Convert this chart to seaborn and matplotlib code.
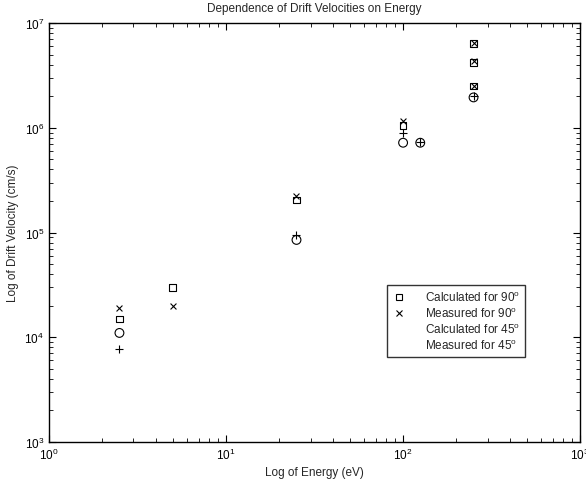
import matplotlib
matplotlib.use("Agg")
import matplotlib.pyplot as plt
import seaborn as sns
import numpy as np
from matplotlib.lines import Line2D
from matplotlib.ticker import LogLocator, NullFormatter

sns.set_style("white")
plt.rcParams['font.family'] = ['Liberation Sans', 'DejaVu Sans']
plt.rcParams['mathtext.fontset'] = 'custom'
plt.rcParams['mathtext.rm'] = 'Liberation Sans'

# Data
calc90_E = [2.5, 5, 25, 100, 250, 250, 250]
calc90_V = [1.5e4, 3.0e4, 2.05e5, 1.05e6, 6.4e6, 4.2e6, 2.5e6]
meas90_E = [2.5, 5, 25, 100, 250, 250, 250]
meas90_V = [1.9e4, 2.0e4, 2.25e5, 1.15e6, 6.4e6, 4.3e6, 2.5e6]
calc45_E = [2.5, 25, 100, 125, 250]
calc45_V = [1.1e4, 8.5e4, 7.2e5, 7.2e5, 1.95e6]
meas45_E = [2.5, 25, 100, 125, 250]
meas45_V = [7.8e3, 9.5e4, 9.0e5, 7.3e5, 2.0e6]

labels = ["Calculated for 90$^\\mathregular{o}$", "Measured for 90$^\\mathregular{o}$",
          "Calculated for 45$^\\mathregular{o}$", "Measured for 45$^\\mathregular{o}$"]

fig = plt.figure(figsize=(5.86, 4.81), dpi=100)
ax = fig.add_axes([0.0836, 0.079, 0.9064, 0.871])

sns.scatterplot(x=calc90_E, y=calc90_V, marker='s', s=22, facecolors='none',
                edgecolor='black', linewidth=0.8, ax=ax)
sns.scatterplot(x=meas90_E, y=meas90_V, marker='x', s=18, color='black',
                linewidth=0.8, ax=ax)
sns.scatterplot(x=calc45_E, y=calc45_V, marker='o', s=40, facecolors='none',
                edgecolor='black', linewidth=0.8, ax=ax)
sns.scatterplot(x=meas45_E, y=meas45_V, marker='+', s=40, color='black',
                linewidth=0.8, ax=ax)

ax.set_xscale('log')
ax.set_yscale('log')
ax.set_xlim(1, 1000)
ax.set_ylim(1e3, 1e7)

ax.xaxis.set_minor_locator(LogLocator(base=10, subs=np.arange(2, 10), numticks=20))
ax.yaxis.set_minor_locator(LogLocator(base=10, subs=np.arange(2, 10), numticks=20))
ax.xaxis.set_minor_formatter(NullFormatter())
ax.yaxis.set_minor_formatter(NullFormatter())

ax.tick_params(which='both', direction='in', top=True, right=True,
               bottom=True, left=True, labelsize=8.5, colors='black')
ax.tick_params(which='major', length=5, width=0.8)
ax.tick_params(which='minor', length=3, width=0.6)
for sp in ax.spines.values():
    sp.set_color('black')
    sp.set_linewidth(1.0)

ax.set_title("Dependence of Drift Velocities on Energy", fontsize=8.5, pad=9)
ax.set_xlabel("Log of Energy (eV)", fontsize=8.5, labelpad=3)
ax.set_ylabel("Log of Drift Velocity (cm/s)", fontsize=8.5, labelpad=4)

handles = [
    Line2D([], [], linestyle='none', marker='s', markersize=4.5,
           markerfacecolor='none', markeredgecolor='black', markeredgewidth=0.8),
    Line2D([], [], linestyle='none', marker='x', markersize=4,
           color='black', markeredgewidth=0.8),
    Line2D([], [], linestyle='none', marker=None),
    Line2D([], [], linestyle='none', marker=None),
]
leg = ax.legend(handles, labels, loc='upper left', bbox_to_anchor=(0.636, 0.374),
                fontsize=8.5, frameon=True, fancybox=False, edgecolor='black',
                handlelength=1.2, handletextpad=1.6, labelspacing=0.2,
                borderpad=0.4, borderaxespad=0)
leg.get_frame().set_linewidth(1.0)

fig.savefig("out.png", dpi=100, facecolor='white')
